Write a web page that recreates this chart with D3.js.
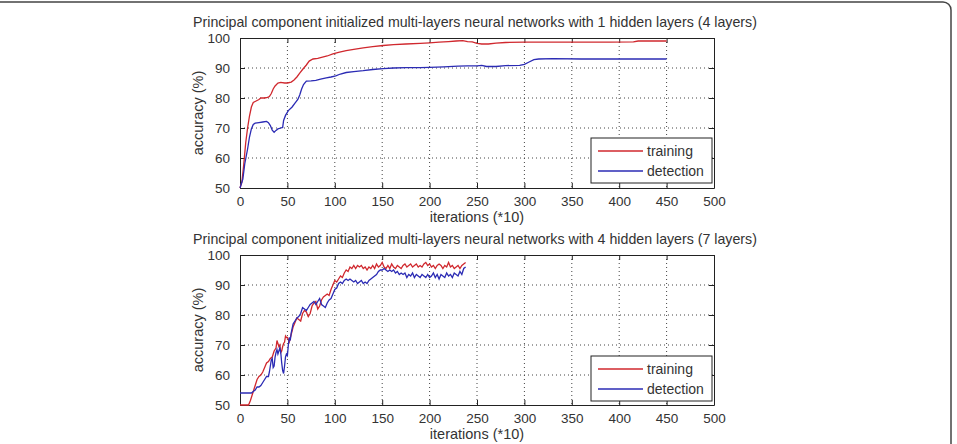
<!DOCTYPE html>
<html>
<head>
<meta charset="utf-8">
<script src="https://cdnjs.cloudflare.com/ajax/libs/d3/7.8.5/d3.min.js"></script>
<style>
  body { margin: 0; background: #fff; }
  svg { display: block; }
  text { font-family: "Liberation Sans", Arial, sans-serif; fill: #333; }
</style>
</head>
<body>
<div id="chart"></div>
<script>
// tick values shared by both panels
const xTicks = [0, 50, 100, 150, 200, 250, 300, 350, 400, 450, 500]
const yTicks = [50, 60, 70, 80, 90, 100]
const seriesNames = ["training", "detection"]

const titles = [
  "Principal component initialized multi-layers neural networks with 1 hidden layers (4 layers)",
  "Principal component initialized multi-layers neural networks with 4 hidden layers (7 layers)"
]

// top panel (1 hidden layer)
const topTrainIter = [0,2,4,6,8,10,12,14,17,20,22,26,29,31,33,35,37,40,43,47,50,54,57,60,63,66,70,73,77,82,87,92,98,105,112,120,130,140,151,162,175,190,200,210,220,228,235,240,245,250,255,262,270,280,300,330,360,390,415,420,450]
const topTrainAcc  = [50,52,58,65,70,74,77,78.5,79,79.5,80,80,80.2,80.5,81.5,83,84,85,85.2,85,85,85.3,86,87,88.3,89.5,91,92.3,93,93.2,93.6,94,94.7,95.3,95.8,96.2,96.7,97.1,97.5,97.8,98,98.2,98.4,98.6,98.8,99,99.1,98.8,98.7,98.2,98,98,98.3,98.5,98.6,98.6,98.6,98.6,98.7,99,99]
const topDetIter = [0,3,5,8,10,12,14,16,20,24,28,30,32,34,36,38,40,43,45,46,48,51,55,58,61,63,65,67,70,75,80,85,91,96,101,106,112,120,130,140,151,162,175,190,200,215,230,240,250,255,260,270,280,295,300,305,310,315,330,360,400,450]
const topDetAcc  = [50,53,58,63,67,69.7,71.2,71.6,71.8,72,72.2,71.8,70.8,69.3,68.6,69.2,69.7,70,70.2,72.5,74.2,75.8,77,78.3,79.5,81,83,84.5,85.6,85.7,85.9,86.3,86.7,87,87.4,88,88.5,88.8,89.1,89.5,89.8,90,90.1,90.1,90.2,90.4,90.6,90.7,90.7,90.9,90.5,90.5,90.8,90.9,91.2,92,92.8,93,93.1,93,93,93]

// bottom panel (4 hidden layers)
const botTrainIter = [0,9,11,13,15,18,20,22,24,26,28,30,32,34,36,38,39,40,41,42,43,44,45,46,47,48,49,50,52,54,56,58,60,62,64,66,68,70,72,74,76,78,80,82,84,86,88,90,92,94,96,98,100,102,104,106,108,110,112,114,116,118,120,122,124,126,128,130,132,134,136,138,140,142,144,146,148,150,152,154,156,158,160,162,164,166,168,170,172,174,176,178,180,182,184,186,188,190,192,194,196,198,200,202,204,206,208,210,212,214,216,218,220,222,224,226,228,230,232,234,236,238]
const botTrainAcc  = [50,50,51.5,53.5,55.5,58.5,59.5,60,61,62.5,64,64.5,65.5,66,68,69,71.5,70.5,69.5,70,67.5,68,69.5,70.5,71,73,72.5,72.5,71,73.5,76,77.5,79,78.5,78,80.5,81.5,81,79.5,80.5,83,84,84.5,82,83,85,86,86.5,87,86.5,88.5,90,91.5,91,92,93,92.5,94,95,94.5,96,95.5,96.5,95.5,96.5,96,96.5,95.5,96,95,96,95.5,96.5,95.5,97,96,96.5,97.5,96,95.5,96.5,95.5,97,96,95.5,96.5,96,95.5,96.5,97,96,96.5,97,96,96.5,97,96,96.5,96,97,97.5,96.5,97,96,96.5,95.5,96.5,97,96.5,95.5,96.5,96,97.5,96,96.5,95.5,96,96.5,95.5,96.5,97,97.5]
const botDetIter = [0,12,14,16,18,20,22,24,26,28,30,31,32,33,34,35,36,37,38,39,40,41,42,43,44,45,46,47,48,49,50,51,52,53,54,56,58,60,62,64,66,68,70,72,74,76,78,80,82,84,86,88,90,92,94,96,98,100,102,104,106,108,110,112,114,116,118,120,122,124,126,128,130,132,134,136,138,140,142,144,146,148,150,152,154,156,158,160,162,164,166,168,170,172,174,176,178,180,182,184,186,188,190,192,194,196,198,200,202,204,206,208,210,212,214,216,218,220,222,224,226,228,230,232,234,236,238]
const botDetAcc  = [54,54,54.5,55,56,56,56.5,57.5,58.5,59.5,59.5,61,63,65,65.5,62.5,63,66,67.5,68.5,67,68,69,67.5,64,61.5,60.5,63,66,67,66.5,70,72.5,71.5,74,77,78,79,79.5,80.5,82.5,82,81.5,82.5,83.5,84,84.5,83.5,84.5,85.5,83.5,83,82.5,84,85,85.5,87,88.5,89,90.5,91,90.5,91.5,92,91.5,92,91.5,91,91.5,90.5,91,91.5,90.5,91,90.5,91.5,92,92.5,93,93.5,94.5,95,95,95.5,95,94.5,95,94.5,95,94,94.5,93.5,94,93.5,94,92.5,93.5,93,94,92.5,93.5,93,92.5,93.5,93,92.5,93.5,92.5,93,94,92.5,93.5,92,93.5,93,92.5,94,93,93.5,92.5,94,93.5,93,94.5,93.5,95.5,96]

const panels = [
  { top: 38, title: titles[0], train: [topTrainIter, topTrainAcc], det: [topDetIter, topDetAcc], legendTop: 138 },
  { top: 255, title: titles[1], train: [botTrainIter, botTrainAcc], det: [botDetIter, botDetAcc], legendTop: 356 }
]

const width = 957, height = 444
const left = 240, plotW = 474, plotH = 150
const colors = { training: "#d0282e", detection: "#2b2bb4" }

const svg = d3.select("#chart").append("svg")
  .attr("width", width).attr("height", height)

// rounded outer frame (only top and right edges are visible)
svg.append("rect")
  .attr("x", -20).attr("y", 2).attr("width", 971).attr("height", 480)
  .attr("rx", 8).attr("fill", "none").attr("stroke", "#444").attr("stroke-width", 1.5)

const x = d3.scaleLinear().domain([0, 500]).range([0, plotW])
const y = d3.scaleLinear().domain([50, 100]).range([plotH, 0])

panels.forEach(p => {
  const g = svg.append("g").attr("transform", `translate(${left},${p.top})`)

  // dotted grid
  g.append("g").selectAll("line").data(xTicks.slice(1, -1)).join("line")
    .attr("x1", d => x(d)).attr("x2", d => x(d)).attr("y1", 0).attr("y2", plotH)
    .attr("stroke", "#444").attr("stroke-width", 1).attr("stroke-dasharray", "1,3")
  g.append("g").selectAll("line").data(yTicks.slice(1, -1)).join("line")
    .attr("y1", d => y(d)).attr("y2", d => y(d)).attr("x1", 0).attr("x2", plotW)
    .attr("stroke", "#444").attr("stroke-width", 1).attr("stroke-dasharray", "1,3")

  // axes, ticks pointing inward like matlab
  g.append("g").attr("transform", `translate(0,${plotH})`)
    .call(d3.axisBottom(x).tickValues(xTicks).tickSize(-5).tickPadding(8).tickSizeOuter(0))
    .call(a => a.selectAll("text").attr("font-size", 13.5).attr("fill", "#333"))
  g.append("g")
    .call(d3.axisLeft(y).tickValues(yTicks).tickSize(-5).tickPadding(10).tickSizeOuter(0))
    .call(a => a.selectAll("text").attr("font-size", 13.5).attr("fill", "#333"))
  g.append("g")
    .call(d3.axisTop(x).tickValues(xTicks).tickSize(-5).tickFormat("").tickSizeOuter(0))
  g.append("g").attr("transform", `translate(${plotW},0)`)
    .call(d3.axisRight(y).tickValues(yTicks).tickSize(-5).tickFormat("").tickSizeOuter(0))
  g.selectAll(".domain").attr("stroke", "#222")
  g.selectAll(".tick line").attr("stroke", "#222")
  g.selectAll("text").attr("font-family", null)

  const line = d3.line().x(d => x(d[0])).y(d => y(d[1]))
  const series = [
    { name: "training", pts: d3.zip(p.train[0], p.train[1]) },
    { name: "detection", pts: d3.zip(p.det[0], p.det[1]) }
  ]
  g.selectAll("path.series").data(series).join("path")
    .attr("class", "series")
    .attr("d", d => line(d.pts))
    .attr("fill", "none").attr("stroke", d => colors[d.name]).attr("stroke-width", 1.3)

  // title and labels
  svg.append("text").attr("x", 475).attr("y", p.top - 11)
    .attr("text-anchor", "middle").attr("font-size", 14.2).text(p.title)
  svg.append("text").attr("x", left + plotW / 2).attr("y", p.top + plotH + 34)
    .attr("text-anchor", "middle").attr("font-size", 14.5).text("iterations (*10)")
  svg.append("text")
    .attr("transform", `translate(203,${p.top + plotH / 2}) rotate(-90)`)
    .attr("text-anchor", "middle").attr("font-size", 14.5).text("accuracy (%)")

  // legend
  const lg = svg.append("g").attr("transform", `translate(591,${p.legendTop})`)
  lg.append("rect").attr("width", 121).attr("height", 45)
    .attr("fill", "#fff").attr("stroke", "#222").attr("stroke-width", 1)
  seriesNames.forEach((n, i) => {
    lg.append("line").attr("x1", 7).attr("x2", 52)
      .attr("y1", 13 + i * 20).attr("y2", 13 + i * 20)
      .attr("stroke", colors[n]).attr("stroke-width", 1.3)
    lg.append("text").attr("x", 56).attr("y", 18 + i * 20)
      .attr("font-size", 14).text(n)
  })
})
</script>
</body>
</html>
